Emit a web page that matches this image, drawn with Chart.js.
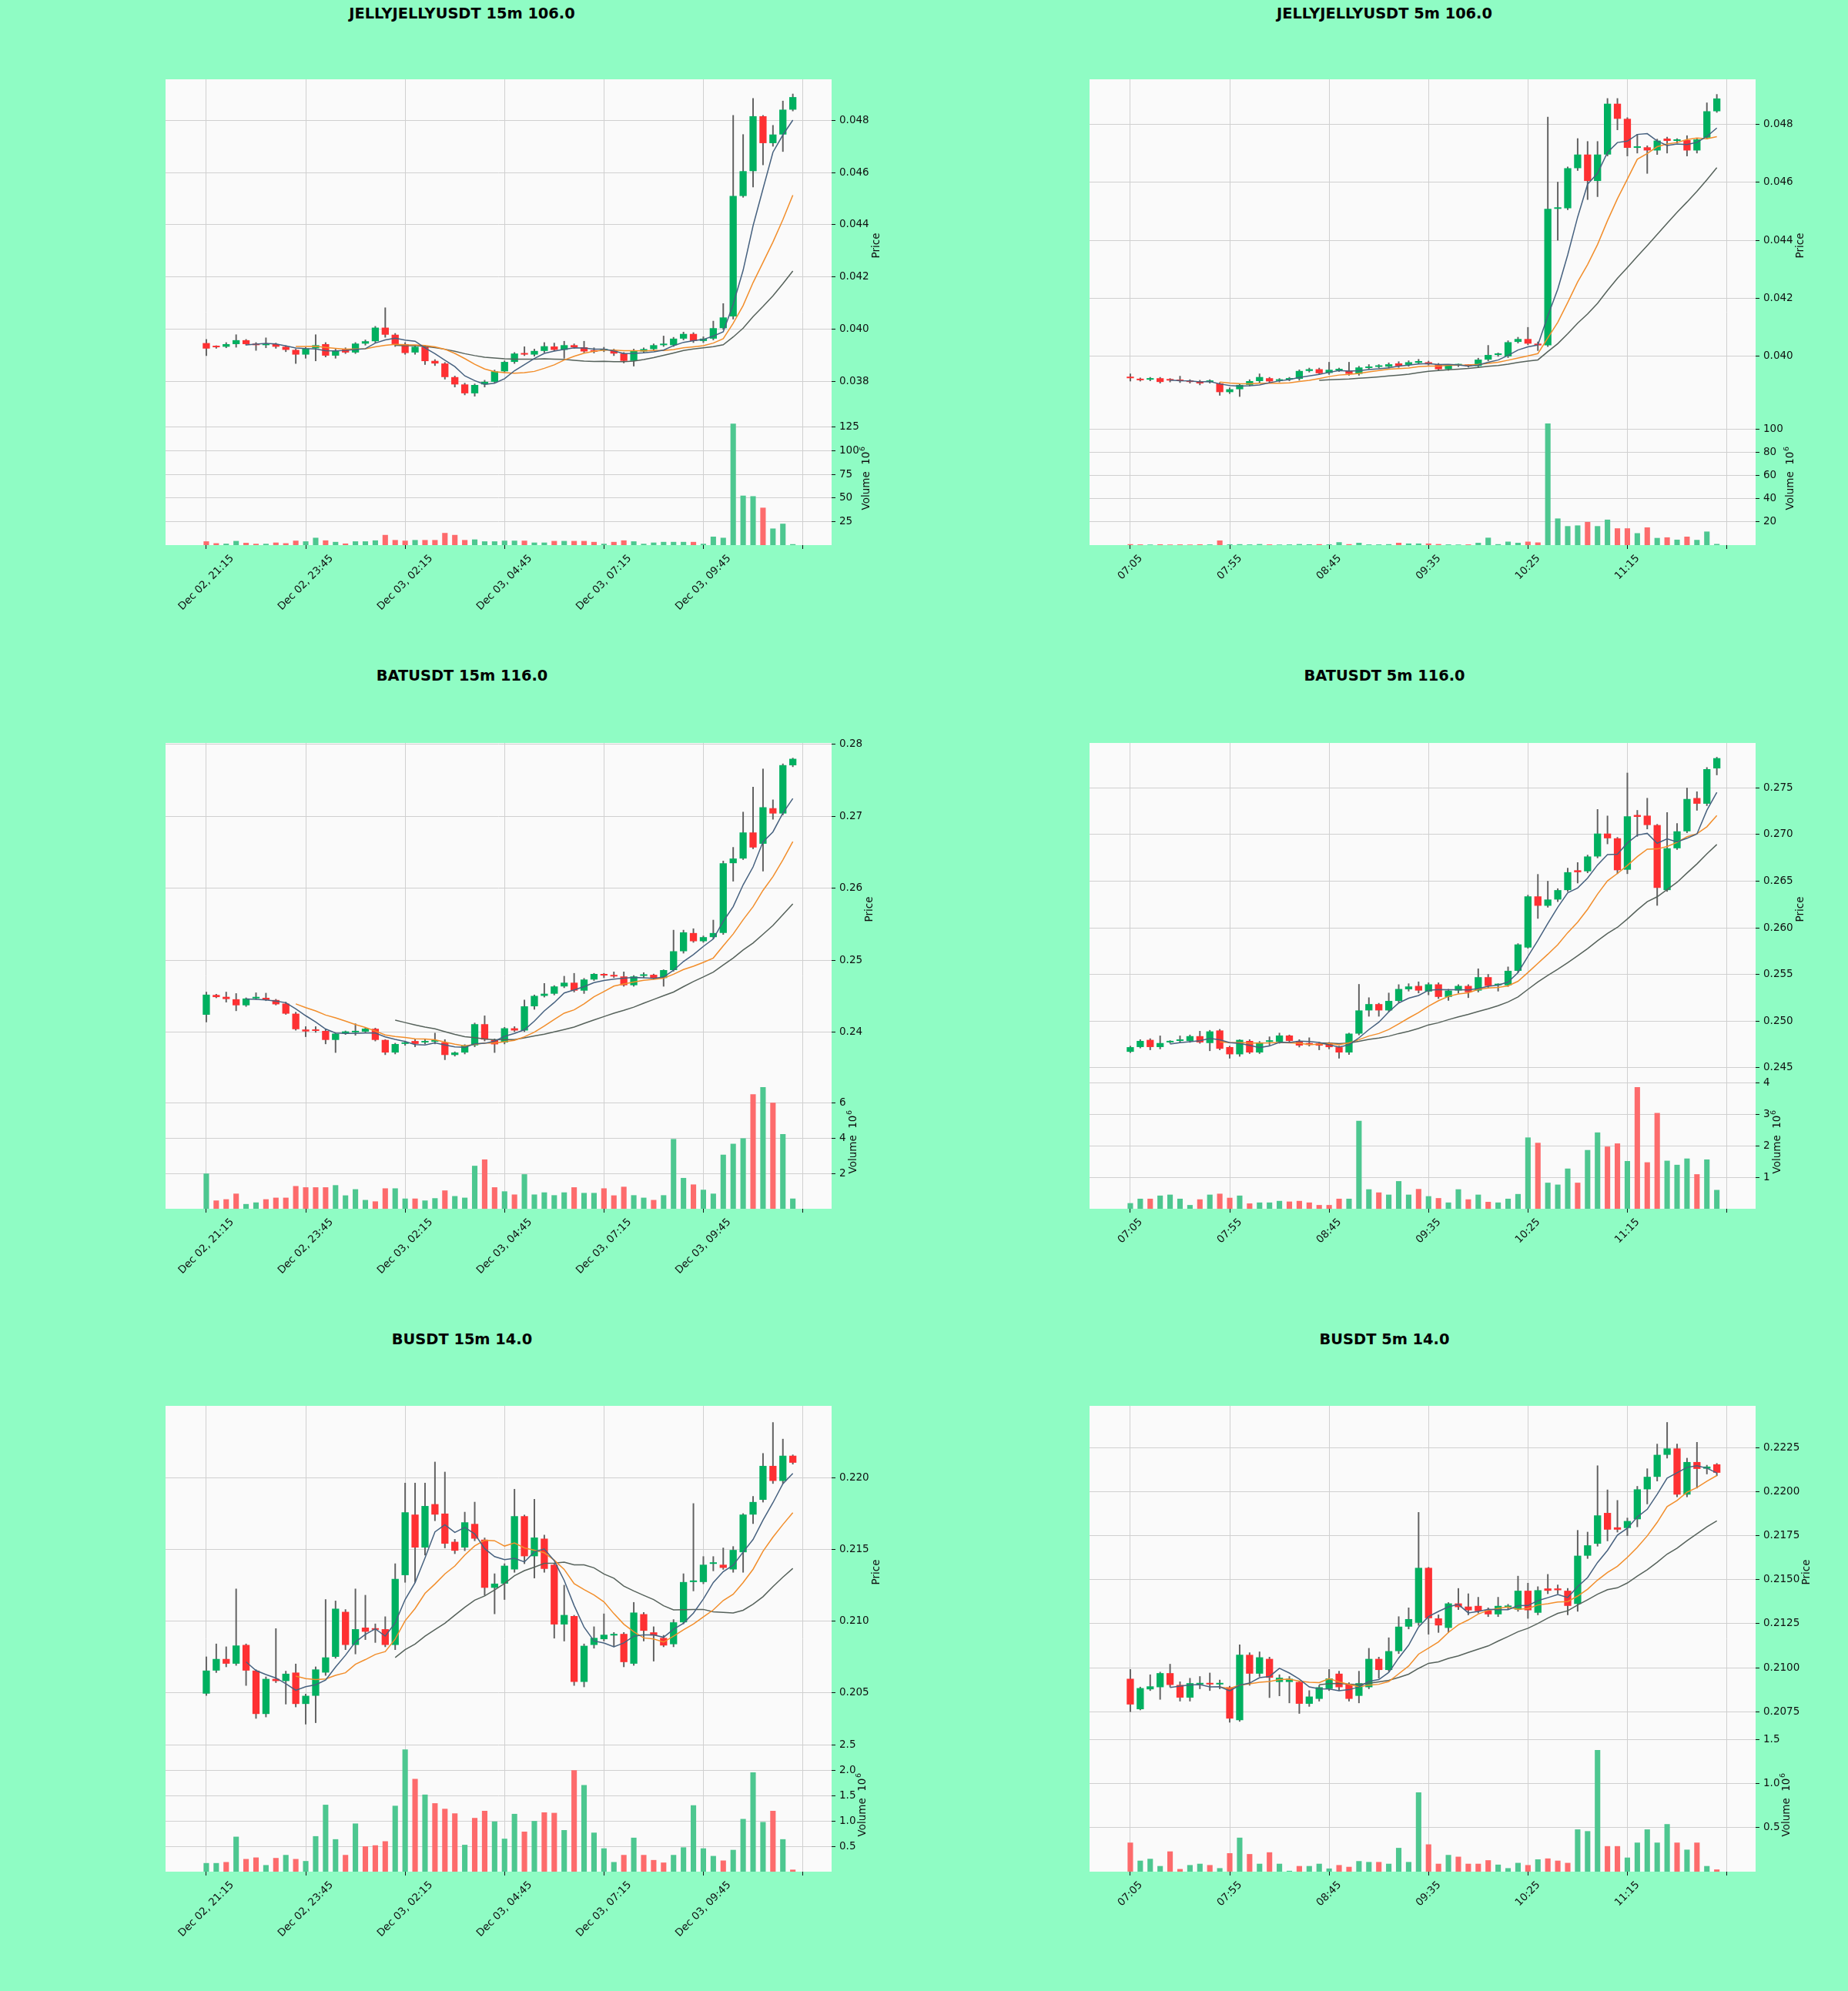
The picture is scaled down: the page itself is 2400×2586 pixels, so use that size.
<!DOCTYPE html>
<html><head><meta charset="utf-8">
<script src="https://cdn.jsdelivr.net/npm/chart.js@4.4.1/dist/chart.umd.min.js"></script>
<style>
html,body{margin:0;padding:0;background:#8ffcc4;}
body{width:2400px;height:2586px;position:relative;overflow:hidden;}
.title{position:absolute;font:bold 19.4px "DejaVu Sans";color:#000;white-space:nowrap;transform:translate(-50%,-50%);}
canvas{position:absolute;}
</style></head><body>
<script>
// ---------------- DATA ----------------
const ticks15 = ["Dec 02, 21:15","Dec 02, 23:45","Dec 03, 02:15","Dec 03, 04:45","Dec 03, 07:15","Dec 03, 09:45",""];
const ticks5 = ["07:05","07:55","08:45","09:35","10:25","11:15",""];
const xTickPos = [0,10,20,30,40,50,60];

const jelly15_open = [0.03948,0.03934,0.03934,0.03944,0.03959,0.03946,0.03940,0.03944,0.03934,0.03922,0.03904,0.03928,0.03944,0.03900,0.03925,0.03912,0.03946,0.03955,0.04007,0.03980,0.03944,0.03912,0.03934,0.03880,0.03870,0.03818,0.03790,0.03756,0.03790,0.03800,0.03840,0.03876,0.03910,0.03904,0.03918,0.03935,0.03922,0.03940,0.03932,0.03916,0.03920,0.03920,0.03908,0.03880,0.03916,0.03925,0.03940,0.03940,0.03965,0.03983,0.03956,0.03965,0.04005,0.04050,0.04510,0.04605,0.04815,0.04712,0.04745,0.04840];
const jelly15_high = [0.03962,0.03938,0.03950,0.03980,0.03962,0.03950,0.03968,0.03948,0.03938,0.03925,0.03932,0.03980,0.03950,0.03925,0.03930,0.03950,0.03960,0.04012,0.04083,0.03985,0.03950,0.03940,0.03938,0.03885,0.03874,0.03822,0.03795,0.03792,0.03806,0.03845,0.03880,0.03912,0.03934,0.03925,0.03950,0.03948,0.03955,0.03945,0.03955,0.03930,0.03932,0.03925,0.03912,0.03925,0.03930,0.03945,0.03975,0.03970,0.03990,0.03988,0.03972,0.04032,0.04099,0.04818,0.04745,0.04883,0.04818,0.04780,0.04873,0.04900];
const jelly15_low = [0.03900,0.03928,0.03930,0.03932,0.03940,0.03920,0.03930,0.03928,0.03915,0.03870,0.03890,0.03880,0.03895,0.03890,0.03908,0.03908,0.03940,0.03950,0.03970,0.03935,0.03905,0.03905,0.03866,0.03862,0.03810,0.03780,0.03750,0.03745,0.03780,0.03795,0.03835,0.03870,0.03900,0.03898,0.03912,0.03918,0.03890,0.03928,0.03912,0.03910,0.03915,0.03900,0.03872,0.03860,0.03912,0.03920,0.03935,0.03935,0.03960,0.03950,0.03950,0.03960,0.04000,0.04040,0.04505,0.04544,0.04629,0.04700,0.04680,0.04835];
const jelly15_close = [0.03927,0.03932,0.03944,0.03959,0.03944,0.03940,0.03946,0.03934,0.03922,0.03904,0.03928,0.03940,0.03900,0.03920,0.03912,0.03946,0.03955,0.04007,0.03980,0.03944,0.03910,0.03934,0.03879,0.03870,0.03818,0.03790,0.03756,0.03788,0.03800,0.03840,0.03876,0.03908,0.03904,0.03918,0.03936,0.03922,0.03940,0.03932,0.03916,0.03915,0.03921,0.03908,0.03880,0.03920,0.03925,0.03940,0.03941,0.03965,0.03983,0.03956,0.03965,0.04005,0.04046,0.04510,0.04605,0.04815,0.04712,0.04745,0.04840,0.04888];
const jelly15_volume = [4,2,1.5,4.4,2.4,1.4,1.4,2.7,2,4.7,4,7.8,5,3.4,1.7,4,4,5,10.8,5.4,4.7,5.4,5.4,5.4,12.9,10.8,5.4,6,4,4,4.7,4.7,4.7,2.7,2.7,4.4,4.4,4.4,4.4,3.4,1.4,3.4,5,4,1.4,2.7,3.4,3.4,3.4,3.4,1.4,9,7.8,128.8,52.5,51.9,39.7,17.6,22.7,1];

const jelly5_open = [0.03926,0.03923,0.03920,0.03925,0.03918,0.03918,0.03916,0.03914,0.03912,0.03907,0.03877,0.03887,0.03902,0.03915,0.03925,0.03916,0.03920,0.03923,0.03950,0.03956,0.03943,0.03952,0.03951,0.03940,0.03960,0.03964,0.03965,0.03976,0.03971,0.03978,0.03980,0.03973,0.03956,0.03969,0.03968,0.03967,0.03989,0.04005,0.04000,0.04050,0.04060,0.04044,0.04038,0.04508,0.04510,0.04648,0.04695,0.04604,0.04695,0.04870,0.04818,0.04718,0.04720,0.04709,0.04750,0.04742,0.04745,0.04709,0.04753,0.04844];
const jelly5_high = [0.03940,0.03926,0.03928,0.03928,0.03924,0.03932,0.03920,0.03918,0.03920,0.03910,0.03892,0.03906,0.03920,0.03940,0.03928,0.03924,0.03928,0.03954,0.03960,0.03960,0.03980,0.03960,0.03980,0.03966,0.03972,0.03972,0.03978,0.03982,0.03985,0.03990,0.03984,0.03976,0.03972,0.03974,0.03972,0.03994,0.04038,0.04012,0.04054,0.04066,0.04100,0.04050,0.04824,0.04600,0.04652,0.04750,0.04740,0.04740,0.04888,0.04888,0.04822,0.04765,0.04725,0.04748,0.04755,0.04750,0.04760,0.04750,0.04873,0.04902];
const jelly5_low = [0.03915,0.03915,0.03916,0.03908,0.03912,0.03910,0.03908,0.03902,0.03908,0.03866,0.03872,0.03862,0.03898,0.03910,0.03910,0.03912,0.03916,0.03918,0.03946,0.03938,0.03938,0.03948,0.03935,0.03935,0.03956,0.03960,0.03960,0.03962,0.03966,0.03974,0.03970,0.03952,0.03952,0.03965,0.03963,0.03962,0.03985,0.04000,0.03996,0.04046,0.04040,0.04020,0.04034,0.04400,0.04505,0.04640,0.04540,0.04550,0.04690,0.04780,0.04690,0.04700,0.04630,0.04695,0.04700,0.04735,0.04690,0.04700,0.04748,0.04840];
const jelly5_close = [0.03925,0.03918,0.03921,0.03912,0.03917,0.03915,0.03912,0.03907,0.03916,0.03877,0.03887,0.03902,0.03915,0.03929,0.03914,0.03920,0.03924,0.03950,0.03956,0.03942,0.03954,0.03955,0.03940,0.03962,0.03964,0.03966,0.03973,0.03967,0.03980,0.03984,0.03973,0.03956,0.03969,0.03970,0.03967,0.03989,0.04005,0.04007,0.04049,0.04060,0.04044,0.04038,0.04508,0.04510,0.04648,0.04695,0.04604,0.04695,0.04870,0.04818,0.04718,0.04720,0.04709,0.04743,0.04742,0.04744,0.04709,0.04747,0.04844,0.04888];
const jelly5_volume = [0.8,0.6,0.5,0.7,0.5,0.6,0.5,0.7,0.6,4,0.7,0.8,0.6,0.9,0.6,0.5,0.6,0.9,0.7,0.8,0.7,2.5,0.8,2,0.6,0.6,0.8,2,1.4,1.4,1.4,0.9,0.6,0.5,0.6,2,6.4,0.8,3,2,3,2.3,105,23,16.4,17,20,16.4,22,14.5,14.5,10.3,15.3,6.2,6.7,4.7,7.3,4.5,11.7,1];

const bat15_open = [0.24245,0.24520,0.24494,0.24460,0.24376,0.24472,0.24480,0.24450,0.24400,0.24260,0.24040,0.24026,0.24020,0.23895,0.23983,0.24000,0.24010,0.24050,0.23895,0.23720,0.23840,0.23880,0.23860,0.23870,0.23860,0.23686,0.23720,0.23820,0.24114,0.23900,0.23860,0.24057,0.24026,0.24362,0.24507,0.24537,0.24638,0.24690,0.24580,0.24734,0.24810,0.24797,0.24777,0.24655,0.24785,0.24800,0.24755,0.24865,0.25127,0.25380,0.25266,0.25323,0.25380,0.26350,0.26415,0.26777,0.26620,0.27114,0.27040,0.27710];
const bat15_high = [0.24560,0.24530,0.24560,0.24540,0.24480,0.24550,0.24545,0.24460,0.24420,0.24280,0.24080,0.24080,0.24040,0.23990,0.24020,0.24120,0.24060,0.24060,0.23900,0.23850,0.23880,0.23900,0.23900,0.23990,0.23900,0.23730,0.23830,0.24130,0.24230,0.23910,0.24070,0.24080,0.24450,0.24520,0.24680,0.24650,0.24780,0.24820,0.24750,0.24820,0.24820,0.24840,0.24840,0.24790,0.24830,0.24810,0.24870,0.25420,0.25420,0.25440,0.25340,0.25560,0.26380,0.26570,0.27060,0.27406,0.27659,0.27230,0.27730,0.27810];
const bat15_low = [0.24144,0.24480,0.24420,0.24300,0.24360,0.24460,0.24440,0.24380,0.24250,0.24030,0.23940,0.24000,0.23840,0.23720,0.23970,0.23960,0.24000,0.23880,0.23690,0.23700,0.23820,0.23800,0.23840,0.23840,0.23620,0.23670,0.23700,0.23800,0.23880,0.23720,0.23840,0.24010,0.24010,0.24320,0.24490,0.24520,0.24620,0.24560,0.24540,0.24720,0.24760,0.24760,0.24640,0.24640,0.24760,0.24740,0.24640,0.24850,0.25100,0.25250,0.25250,0.25300,0.25360,0.26100,0.26400,0.26550,0.26240,0.26960,0.27020,0.27690];
const bat15_close = [0.24524,0.24490,0.24463,0.24376,0.24470,0.24490,0.24450,0.24390,0.24260,0.24044,0.24013,0.24020,0.23895,0.23983,0.24013,0.24010,0.24052,0.23895,0.23720,0.23838,0.23860,0.23840,0.23870,0.23870,0.23686,0.23720,0.23820,0.24114,0.23900,0.23834,0.24057,0.24026,0.24362,0.24507,0.24537,0.24638,0.24690,0.24580,0.24734,0.24812,0.24790,0.24777,0.24655,0.24777,0.24790,0.24755,0.24865,0.25127,0.25389,0.25266,0.25323,0.25380,0.26350,0.26415,0.26777,0.26568,0.27127,0.27040,0.27712,0.27800];
const bat15_volume = [2.0,0.47,0.54,0.86,0.27,0.36,0.54,0.63,0.63,1.29,1.22,1.22,1.22,1.34,0.76,1.11,0.5,0.42,1.16,1.16,0.58,0.58,0.47,0.6,1.04,0.72,0.63,2.44,2.8,1.22,0.99,0.81,1.96,0.81,0.93,0.77,0.93,1.22,0.9,0.9,1.16,0.76,1.25,0.77,0.63,0.5,0.77,3.96,1.75,1.38,1.08,0.86,3.07,3.69,4.0,6.5,6.9,6.02,4.24,0.58];

const bat5_open = [0.24669,0.24720,0.24797,0.24720,0.24770,0.24786,0.24786,0.24837,0.24763,0.24898,0.24720,0.24642,0.24786,0.24662,0.24776,0.24776,0.24844,0.24786,0.24763,0.24760,0.24763,0.24719,0.24662,0.24864,0.25113,0.25181,0.25113,0.25215,0.25340,0.25376,0.25316,0.25393,0.25258,0.25326,0.25376,0.25326,0.25470,0.25383,0.25383,0.25538,0.25788,0.26337,0.26236,0.26303,0.26404,0.26617,0.26606,0.26765,0.27011,0.26960,0.26623,0.27210,0.27203,0.27102,0.26404,0.26853,0.27035,0.27392,0.27331,0.27710];
const bat5_high = [0.24730,0.24800,0.24810,0.24840,0.24790,0.24840,0.24850,0.24890,0.24900,0.24910,0.24730,0.24800,0.24800,0.24780,0.24830,0.24870,0.24850,0.24800,0.24820,0.24770,0.24770,0.24730,0.24870,0.25393,0.25250,0.25190,0.25300,0.25390,0.25400,0.25420,0.25410,0.25410,0.25340,0.25390,0.25390,0.25560,0.25500,0.25400,0.25580,0.25830,0.26350,0.26573,0.26500,0.26420,0.26640,0.26700,0.26780,0.27270,0.27200,0.26970,0.27661,0.27260,0.27390,0.27110,0.27237,0.27120,0.27500,0.27460,0.27720,0.27830];
const bat5_low = [0.24660,0.24710,0.24690,0.24700,0.24760,0.24770,0.24770,0.24760,0.24680,0.24690,0.24600,0.24620,0.24650,0.24650,0.24740,0.24760,0.24770,0.24720,0.24730,0.24690,0.24700,0.24600,0.24640,0.24850,0.25050,0.25050,0.25100,0.25200,0.25320,0.25300,0.25280,0.25240,0.25220,0.25300,0.25250,0.25310,0.25350,0.25320,0.25370,0.25520,0.25780,0.26100,0.26220,0.26280,0.26390,0.26480,0.26590,0.26750,0.26900,0.26580,0.26580,0.26980,0.27060,0.26240,0.26390,0.26840,0.27020,0.27260,0.27310,0.27640];
const bat5_close = [0.24719,0.24786,0.24720,0.24763,0.24780,0.24790,0.24837,0.24770,0.24888,0.24702,0.24642,0.24797,0.24662,0.24770,0.24786,0.24844,0.24786,0.24736,0.24743,0.24736,0.24719,0.24662,0.24864,0.25113,0.25181,0.25113,0.25215,0.25343,0.25370,0.25326,0.25393,0.25258,0.25326,0.25376,0.25309,0.25470,0.25376,0.25393,0.25538,0.25821,0.26337,0.26236,0.26303,0.26404,0.26596,0.26596,0.26765,0.27011,0.26960,0.26617,0.27196,0.27190,0.27102,0.26428,0.26853,0.27035,0.27382,0.27331,0.27702,0.27820];
const bat5_volume = [0.18,0.32,0.32,0.42,0.45,0.32,0.12,0.3,0.45,0.48,0.35,0.42,0.17,0.2,0.2,0.25,0.23,0.25,0.2,0.12,0.12,0.32,0.32,2.8,0.62,0.52,0.45,0.88,0.45,0.63,0.4,0.34,0.2,0.62,0.3,0.45,0.22,0.2,0.32,0.47,2.27,2.1,0.83,0.77,1.28,0.83,1.87,2.43,1.98,2.08,1.52,3.87,1.48,3.05,1.53,1.4,1.6,1.1,1.57,0.6];

const bus15_open = [0.20493,0.20654,0.20735,0.20702,0.20833,0.20654,0.20351,0.20596,0.20581,0.20640,0.20421,0.20478,0.20640,0.20750,0.21064,0.20833,0.20954,0.20947,0.20943,0.20833,0.21320,0.21743,0.21513,0.21816,0.21750,0.21553,0.21513,0.21678,0.21568,0.21232,0.21261,0.21360,0.21732,0.21452,0.21575,0.21393,0.20976,0.21035,0.20575,0.20833,0.20873,0.20899,0.20910,0.20702,0.21048,0.20921,0.20882,0.20838,0.20991,0.21272,0.21272,0.21399,0.21393,0.21360,0.21480,0.21743,0.21846,0.22083,0.21978,0.22154];
const bus15_high = [0.20750,0.20840,0.20820,0.21224,0.20840,0.20660,0.20610,0.20947,0.20650,0.20700,0.20490,0.20680,0.21150,0.21140,0.21080,0.21224,0.21180,0.20980,0.21030,0.21400,0.21963,0.21963,0.21963,0.22110,0.22040,0.21570,0.21760,0.21830,0.21580,0.21330,0.21400,0.21920,0.21740,0.21850,0.21600,0.21400,0.21250,0.21040,0.20840,0.20960,0.21050,0.20920,0.20920,0.21130,0.21060,0.20960,0.20900,0.21010,0.21330,0.21820,0.21450,0.21450,0.21510,0.21520,0.21750,0.21870,0.22170,0.22386,0.22270,0.22160];
const bus15_low = [0.20480,0.20640,0.20680,0.20690,0.20550,0.20320,0.20330,0.20570,0.20420,0.20400,0.20280,0.20290,0.20620,0.20740,0.20800,0.20770,0.20870,0.20850,0.20820,0.20800,0.21270,0.21270,0.21460,0.21700,0.21510,0.21470,0.21491,0.21560,0.21180,0.21050,0.21150,0.21340,0.21400,0.21300,0.21340,0.20880,0.20860,0.20550,0.20540,0.20810,0.20860,0.20820,0.20680,0.20690,0.20860,0.20720,0.20820,0.20820,0.20980,0.21210,0.21260,0.21350,0.21360,0.21340,0.21340,0.21680,0.21830,0.21960,0.21960,0.22095];
const bus15_close = [0.20654,0.20735,0.20702,0.20829,0.20654,0.20351,0.20596,0.20581,0.20632,0.20421,0.20478,0.20662,0.20746,0.21086,0.20833,0.20943,0.20925,0.20939,0.20833,0.21294,0.21759,0.21513,0.21803,0.21743,0.21540,0.21491,0.21689,0.21575,0.21232,0.21261,0.21386,0.21732,0.21452,0.21583,0.21364,0.20976,0.21042,0.20575,0.20827,0.20882,0.20904,0.20910,0.20713,0.21059,0.20932,0.20899,0.20829,0.20991,0.21272,0.21283,0.21393,0.21404,0.21371,0.21496,0.21743,0.21831,0.22083,0.21978,0.22154,0.22105];
const bus15_volume = [0.17,0.17,0.19,0.69,0.25,0.28,0.13,0.27,0.33,0.25,0.21,0.7,1.32,0.64,0.33,0.95,0.5,0.52,0.6,1.3,2.41,1.83,1.52,1.35,1.24,1.15,0.53,1.06,1.2,0.99,0.65,1.14,0.79,1.0,1.17,1.16,0.82,2.0,1.71,0.77,0.46,0.19,0.33,0.67,0.33,0.23,0.18,0.33,0.48,1.31,0.46,0.31,0.22,0.43,1.04,1.96,0.98,1.2,0.64,0.04];

const bus5_open = [0.20937,0.20764,0.20877,0.20889,0.20969,0.20902,0.20830,0.20905,0.20907,0.20905,0.20889,0.20702,0.21073,0.20966,0.21050,0.20919,0.20919,0.20919,0.20795,0.20823,0.20880,0.20966,0.20907,0.20840,0.20889,0.21050,0.20987,0.21094,0.21233,0.21255,0.21567,0.21280,0.21226,0.21365,0.21347,0.21351,0.21326,0.21303,0.21344,0.21330,0.21437,0.21312,0.21450,0.21450,0.21437,0.21362,0.21636,0.21704,0.21879,0.21797,0.21793,0.21843,0.22013,0.22084,0.22209,0.22245,0.21983,0.22168,0.22130,0.22155];
const bus5_high = [0.20990,0.20890,0.20960,0.20975,0.21020,0.20920,0.20940,0.20950,0.20970,0.20930,0.20895,0.21130,0.21085,0.21090,0.21060,0.20960,0.20950,0.20925,0.20870,0.20900,0.20990,0.20980,0.20915,0.20980,0.21110,0.21060,0.21170,0.21290,0.21340,0.21882,0.21570,0.21300,0.21370,0.21450,0.21420,0.21400,0.21340,0.21400,0.21360,0.21520,0.21480,0.21460,0.21530,0.21470,0.21450,0.21780,0.21770,0.22147,0.22010,0.21950,0.21850,0.22030,0.22130,0.22270,0.22393,0.22270,0.22190,0.22280,0.22150,0.22160];
const bus5_low = [0.20750,0.20760,0.20870,0.20820,0.20890,0.20810,0.20810,0.20880,0.20870,0.20880,0.20690,0.20695,0.20900,0.20950,0.20830,0.20840,0.20800,0.20740,0.20780,0.20810,0.20870,0.20870,0.20810,0.20800,0.20880,0.20940,0.20980,0.21080,0.21220,0.21240,0.21190,0.21200,0.21200,0.21330,0.21300,0.21310,0.21290,0.21290,0.21330,0.21320,0.21280,0.21300,0.21420,0.21420,0.21300,0.21320,0.21620,0.21690,0.21720,0.21770,0.21750,0.21800,0.21930,0.22060,0.22190,0.21970,0.21970,0.22020,0.22100,0.22090];
const bus5_close = [0.20791,0.20884,0.20894,0.20969,0.20902,0.20830,0.20912,0.20907,0.20905,0.20907,0.20711,0.21073,0.20966,0.21059,0.20943,0.20943,0.20937,0.20795,0.20836,0.20889,0.20939,0.20889,0.20823,0.20912,0.21050,0.20987,0.21094,0.21233,0.21276,0.21567,0.21281,0.21240,0.21365,0.21344,0.21326,0.21321,0.21303,0.21351,0.21348,0.21437,0.21326,0.21440,0.21437,0.21440,0.21351,0.21636,0.21695,0.21865,0.21784,0.21784,0.21833,0.22013,0.22084,0.22209,0.22245,0.21983,0.22168,0.22129,0.22142,0.22107];
const bus5_volume = [0.33,0.125,0.146,0.064,0.23,0.03,0.075,0.09,0.075,0.04,0.21,0.386,0.2,0.09,0.22,0.09,0.01,0.064,0.064,0.09,0.036,0.075,0.055,0.12,0.11,0.11,0.09,0.27,0.11,0.9,0.31,0.09,0.19,0.17,0.09,0.09,0.13,0.08,0.04,0.1,0.075,0.14,0.15,0.125,0.1,0.48,0.46,1.38,0.29,0.29,0.16,0.33,0.48,0.33,0.54,0.33,0.25,0.33,0.064,0.025];

const jelly15_priceTicks = [0.038,0.040,0.042,0.044,0.046,0.048];
const jelly15_priceLabels = ["0.038","0.040","0.042","0.044","0.046","0.048"];
const jelly15_volTicks = [25,50,75,100,125];
const jelly15_volLabels = ["25","50","75","100","125"];
const jelly5_priceTicks = [0.040,0.042,0.044,0.046,0.048];
const jelly5_priceLabels = ["0.040","0.042","0.044","0.046","0.048"];
const jelly5_volTicks = [20,40,60,80,100];
const jelly5_volLabels = ["20","40","60","80","100"];
const bat15_priceTicks = [0.24,0.25,0.26,0.27,0.28];
const bat15_priceLabels = ["0.24","0.25","0.26","0.27","0.28"];
const bat15_volTicks = [2,4,6];
const bat15_volLabels = ["2","4","6"];
const bat5_priceTicks = [0.245,0.250,0.255,0.260,0.265,0.270,0.275];
const bat5_priceLabels = ["0.245","0.250","0.255","0.260","0.265","0.270","0.275"];
const bat5_volTicks = [1,2,3,4];
const bat5_volLabels = ["1","2","3","4"];
const bus15_priceTicks = [0.205,0.210,0.215,0.220];
const bus15_priceLabels = ["0.205","0.210","0.215","0.220"];
const bus15_volTicks = [0.5,1.0,1.5,2.0,2.5];
const bus15_volLabels = ["0.5","1.0","1.5","2.0","2.5"];
const bus5_priceTicks = [0.2075,0.2100,0.2125,0.2150,0.2175,0.2200,0.2225];
const bus5_priceLabels = ["0.2075","0.2100","0.2125","0.2150","0.2175","0.2200","0.2225"];
const bus5_volTicks = [0.5,1.0,1.5];
const bus5_volLabels = ["0.5","1.0","1.5"];

const titles = ["JELLYJELLYUSDT 15m 106.0","JELLYJELLYUSDT 5m 106.0","BATUSDT 15m 116.0","BATUSDT 5m 116.0","BUSDT 15m 14.0","BUSDT 5m 14.0"];
const maPeriods = [5,10,20];

// ---------------- LAYOUT / STYLE ----------------
const PLOT_W = 865, PLOT_H = 605, PRICE_H = 432, VOL_H = 173;
const PAD_L = 10, PAD_T = 24, AXIS_W = 170, XAXIS_H = 120;
const FONT = '13.5px "DejaVu Sans"';
const TXT = '#101010';
const UP = '#00b060', DOWN = '#fe3032', WICK = '#606060';
const UPV = '#4dc790', DOWNV = '#fd6b6c';
const GRID = '#d0d0d0';
const MA_COLORS = ['#46617f', '#f28e2b', '#56625b'];

const panels = [
  {left:215, top:103, tx:600, ty:17, o:jelly15_open,h:jelly15_high,l:jelly15_low,c:jelly15_close,v:jelly15_volume, xl:ticks15, pt:jelly15_priceTicks, pl:jelly15_priceLabels, vt:jelly15_volTicks, vl:jelly15_volLabels, yr:[0.03685,0.04956], vr:[0,141.3]},
  {left:1415, top:103, tx:1798, ty:17, o:jelly5_open,h:jelly5_high,l:jelly5_low,c:jelly5_close,v:jelly5_volume, xl:ticks5, pt:jelly5_priceTicks, pl:jelly5_priceLabels, vt:jelly5_volTicks, vl:jelly5_volLabels, yr:[0.03809,0.04954], vr:[0,115.0]},
  {left:215, top:965, tx:600, ty:877, o:bat15_open,h:bat15_high,l:bat15_low,c:bat15_close,v:bat15_volume, xl:ticks15, pt:bat15_priceTicks, pl:bat15_priceLabels, vt:bat15_volTicks, vl:bat15_volLabels, yr:[0.2340,0.2802], vr:[0,7.56]},
  {left:1415, top:965, tx:1798, ty:877, o:bat5_open,h:bat5_high,l:bat5_low,c:bat5_close,v:bat5_volume, xl:ticks5, pt:bat5_priceTicks, pl:bat5_priceLabels, vt:bat5_volTicks, vl:bat5_volLabels, yr:[0.24414,0.27983], vr:[0,4.24]},
  {left:215, top:1826, tx:600, ty:1739, o:bus15_open,h:bus15_high,l:bus15_low,c:bus15_close,v:bus15_volume, xl:ticks15, pt:bus15_priceTicks, pl:bus15_priceLabels, vt:bus15_volTicks, vl:bus15_volLabels, yr:[0.2018,0.22502], vr:[0,2.627]},
  {left:1415, top:1826, tx:1798, ty:1739, o:bus5_open,h:bus5_high,l:bus5_low,c:bus5_close,v:bus5_volume, xl:ticks5, pt:bus5_priceTicks, pl:bus5_priceLabels, vt:bus5_volTicks, vl:bus5_volLabels, yr:[0.20598,0.22487], vr:[0,1.512]}
];

function movingAverage(arr, n) {
  return arr.map((_, i) => {
    if (i < n - 1) return null;
    let s = 0; for (let k = i - n + 1; k <= i; k++) s += arr[k];
    return s / n;
  });
}

const bgPlugin = {
  id: 'plotbg',
  beforeDraw(chart) {
    const {ctx, chartArea: a} = chart;
    ctx.save(); ctx.fillStyle = '#fafafa';
    ctx.fillRect(a.left, a.top, a.right - a.left, a.bottom - a.top);
    ctx.restore();
  }
};

const labelPlugin = {
  id: 'mplLabels',
  afterDraw(chart) {
    const {ctx, chartArea: a} = chart;
    const p = chart.options.plugins.mplLabels;
    const xs = chart.scales.x;
    ctx.save();
    ctx.fillStyle = TXT;
    ctx.font = FONT;
    const top = a.bottom + 10;
    p.xl.forEach((lab, k) => {
      if (!lab) return;
      const x = xs.getPixelForValue(xTickPos[k]);
      const w = ctx.measureText(lab).width;
      const bh = (w + 15) / Math.SQRT2;
      ctx.save();
      ctx.translate(x, top + bh / 2);
      ctx.rotate(-Math.PI / 4);
      ctx.textAlign = 'center'; ctx.textBaseline = 'middle';
      ctx.fillText(lab, 0, 0);
      ctx.restore();
    });
    const items = [['y', 'Price', ''], ['yv', 'Volume  10', '6']];
    for (const [id, text, sup] of items) {
      const s = chart.scales[id];
      ctx.font = FONT;
      let widest = 0;
      s.ticks.forEach(t => { widest = Math.max(widest, ctx.measureText(String(t.label)).width); });
      const xBase = a.right + 10 + widest + 3 + 10;
      const cy = (s.top + s.bottom) / 2;
      ctx.save();
      ctx.translate(xBase, cy);
      ctx.rotate(-Math.PI / 2);
      ctx.textBaseline = 'alphabetic'; ctx.textAlign = 'left';
      const w1 = ctx.measureText(text).width;
      let w2 = 0;
      const small = '9.5px "DejaVu Sans"';
      if (sup) { ctx.font = small; w2 = ctx.measureText(sup).width; ctx.font = FONT; }
      const start = -(w1 + w2) / 2;
      ctx.fillText(text, start, 0);
      if (sup) { ctx.font = small; ctx.fillText(sup, start + w1 + 0.5, -6); }
      ctx.restore();
    }
    ctx.restore();
  }
};

panels.forEach((P, pi) => {
  const t = document.createElement('div');
  t.className = 'title'; t.textContent = titles[pi];
  t.style.left = P.tx + 'px'; t.style.top = P.ty + 'px';
  document.body.appendChild(t);

  const W = PAD_L + PLOT_W + AXIS_W, H = PAD_T + PLOT_H + XAXIS_H;
  const cv = document.createElement('canvas');
  cv.width = W; cv.height = H;
  cv.style.width = W + 'px'; cv.style.height = H + 'px';
  cv.style.left = (P.left - PAD_L) + 'px'; cv.style.top = (P.top - PAD_T) + 'px';
  document.body.appendChild(cv);

  const idx = P.c.map((_, i) => i);
  const isUp = idx.map(i => P.c[i] >= P.o[i]);
  const datasets = [
    { type: 'bar', label: 'wick', yAxisID: 'y', order: 5, grouped: false,
      data: idx.map(i => ({x: i, y: [P.l[i], P.h[i]]})),
      backgroundColor: WICK, barThickness: 1.3 },
    { type: 'bar', label: 'body', yAxisID: 'y', order: 4, grouped: false,
      data: idx.map(i => ({x: i, y: [P.o[i], P.c[i]]})),
      backgroundColor: idx.map(i => isUp[i] ? UP : DOWN),
      barPercentage: 0.72, categoryPercentage: 1, minBarLength: 2 },
    { type: 'bar', label: 'volume', yAxisID: 'yv', order: 4, grouped: false,
      data: idx.map(i => ({x: i, y: P.v[i]})),
      backgroundColor: idx.map(i => isUp[i] ? UPV : DOWNV),
      barPercentage: 0.55, categoryPercentage: 1 }
  ];
  maPeriods.forEach((n, k) => {
    const ma = movingAverage(P.c, n);
    datasets.push({ type: 'line', label: 'MA' + n, yAxisID: 'y', order: 1,
      data: idx.map(i => ({x: i, y: ma[i]})),
      borderColor: MA_COLORS[k], borderWidth: 1.5, pointRadius: 0, tension: 0, spanGaps: false });
  });

  const yTicks = (labels) => ({
    color: TXT, font: {family: 'DejaVu Sans', size: 13.5}, padding: 5, autoSkip: false,
    callback: (v, i) => labels[i]
  });
  const gridOpts = { color: GRID, lineWidth: 1, offset: false, drawTicks: true, tickLength: 5, tickColor: TXT, tickWidth: 1 };

  new Chart(cv, {
    type: 'bar',
    data: { datasets },
    plugins: [bgPlugin, labelPlugin],
    options: {
      responsive: false, animation: false,
      layout: { padding: { left: PAD_L, top: PAD_T, right: 0, bottom: 0 } },
      plugins: { legend: {display: false}, tooltip: {enabled: false}, mplLabels: { xl: P.xl } },
      scales: {
        x: { type: 'linear', position: 'bottom', min: -4.1, max: 62.9, offset: false,
          grid: gridOpts,
          border: { display: false },
          ticks: { display: false },
          afterBuildTicks: s => { s.ticks = xTickPos.map(v => ({value: v})); },
          afterFit: s => { s.height = XAXIS_H; } },
        y: { type: 'linear', position: 'right', stack: 'panel', stackWeight: PRICE_H,
          min: P.yr[0], max: P.yr[1],
          grid: gridOpts,
          border: { display: false },
          ticks: yTicks(P.pl),
          afterBuildTicks: s => { s.ticks = P.pt.map(v => ({value: v})); },
          afterFit: s => { s.width = AXIS_W; } },
        yv: { type: 'linear', position: 'right', stack: 'panel', stackWeight: VOL_H,
          min: P.vr[0], max: P.vr[1],
          grid: gridOpts,
          border: { display: false },
          ticks: yTicks(P.vl),
          afterBuildTicks: s => { s.ticks = P.vt.map(v => ({value: v})); },
          afterFit: s => { s.width = AXIS_W; } }
      }
    }
  });
});
</script>
</body></html>
